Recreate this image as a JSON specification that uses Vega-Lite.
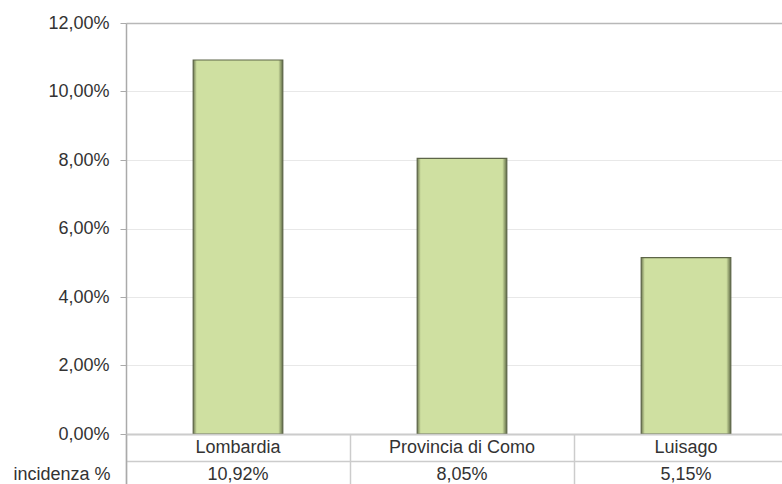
{
  "$schema": "https://vega.github.io/schema/vega-lite/v6.json",
  "padding": {"left": 10, "top": 14, "right": 0, "bottom": 0},
  "background": "white",
  "bounds": "flush",
  "config": {
    "locale": {"number": {"decimal": ",", "thousands": ".", "grouping": [3], "currency": ["€", ""]}},
    "font": "Liberation Sans",
    "view": {"stroke": null},
    "concat": {"spacing": 0}
  },
  "data": {"values": [
    {"region": "Lombardia", "value": 0.1092},
    {"region": "Provincia di Como", "value": 0.0805},
    {"region": "Luisago", "value": 0.0515}
  ]},
  "spacing": 0,
  "vconcat": [
    {
      "width": 657,
      "height": 411,
      "mark": {
        "type": "bar",
        "width": {"band": 0.4},
        "stroke": "#5d6548",
        "strokeWidth": 1.2,
        "color": {
          "gradient": "linear", "x1": 0, "x2": 1, "y1": 0, "y2": 0,
          "stops": [
            {"offset": 0, "color": "#6f7a52"},
            {"offset": 0.04, "color": "#cfe0a1"},
            {"offset": 0.95, "color": "#cfe0a1"},
            {"offset": 1, "color": "#5f6a45"}
          ]
        }
      },
      "encoding": {
        "x": {
          "field": "region", "type": "nominal", "sort": null,
          "scale": {"paddingInner": 0, "paddingOuter": 0, "range": [0, 672]},
          "axis": null
        },
        "y": {
          "field": "value", "type": "quantitative",
          "scale": {"domain": [0, 0.12], "nice": false},
          "axis": {
            "title": null,
            "values": [0, 0.02, 0.04, 0.06, 0.08, 0.1, 0.12],
            "format": ".2%",
            "labelFont": "Liberation Sans",
            "labelFontSize": 18,
            "labelColor": "#333333",
            "labelPadding": 11,
            "tickSize": 6,
            "tickColor": "#aaaaaa",
            "domainColor": "#aaaaaa",
            "domainWidth": 1.5,
            "grid": true,
            "gridColor": {"condition": {"test": "datum.value >= 0.119 || datum.value <= 0.001", "value": "#b8b8b8"}, "value": "#e8e8e8"},
            "gridWidth": {"condition": {"test": "datum.value >= 0.119 || datum.value <= 0.001", "value": 1.5}, "value": 1},
            "minExtent": 115,
            "maxExtent": 115
          }
        }
      }
    },
    {
      "width": 657,
      "height": 54,
      "layer": [
        {
          "mark": {"type": "text", "font": "Liberation Sans", "fontSize": 18, "color": "#333333"},
          "encoding": {
            "x": {
              "field": "region", "type": "nominal", "sort": null,
              "scale": {"paddingInner": 0, "paddingOuter": 0, "range": [0, 672]},
              "axis": {
                "title": null, "labels": false, "ticks": false, "domain": false,
                "grid": true, "tickBand": "extent", "gridColor": "#cccccc", "gridWidth": 1.5
              }
            },
            "y": {
              "datum": "name", "type": "nominal",
              "scale": {"domain": ["name", "inc"], "paddingInner": 0, "paddingOuter": 0},
              "axis": {
                "title": null,
                "labelExpr": "datum.value === 'inc' ? 'incidenza %' : ''",
                "labelAlign": "left",
                "labelPadding": -2,
                "labelFont": "Liberation Sans",
                "labelFontSize": 18,
                "labelColor": "#333333",
                "tickBand": "extent",
                "tickSize": 115,
                "tickColor": {"condition": {"test": "datum.value === 'inc'", "value": "#cccccc"}, "value": "transparent"},
                "tickWidth": 1.5,
                "grid": true,
                "gridColor": "#cccccc",
                "gridWidth": 1.5,
                "domainColor": "#aaaaaa",
                "domainWidth": 1.5,
                "minExtent": 115,
                "maxExtent": 115
              }
            },
            "text": {"field": "region"}
          }
        },
        {
          "mark": {"type": "text", "font": "Liberation Sans", "fontSize": 18, "color": "#333333"},
          "encoding": {
            "x": {"field": "region", "type": "nominal", "sort": null},
            "y": {"datum": "inc", "type": "nominal"},
            "text": {"field": "value", "type": "quantitative", "format": ".2%"}
          }
        }
      ]
    }
  ]
}
